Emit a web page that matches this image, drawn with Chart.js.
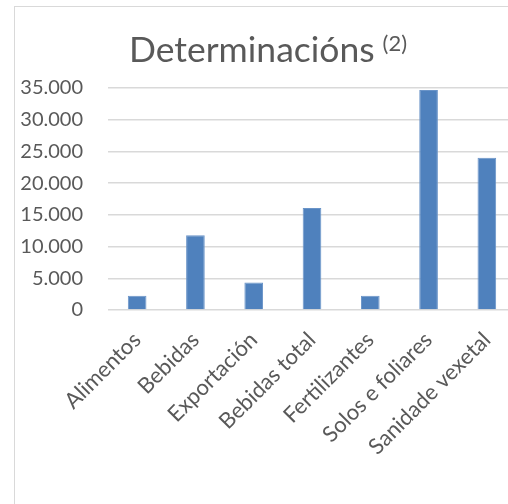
<!DOCTYPE html>
<html>
<head>
<meta charset="utf-8">
<script src="https://cdn.jsdelivr.net/npm/chart.js@4"></script>
<style>
    html, body { margin: 0; padding: 0; background: #fff; overflow: hidden; }
    body { width: 508px; height: 504px; position: relative; }
    #frame {
        position: absolute;
        left: 14px;
        top: 6px;
        width: 520px;
        height: 520px;
        border: 1px solid #d9d9d9;
    }
    #wrap { position: absolute; left: 0; top: 0; width: 520px; height: 520px; }
</style>
</head>
<body>
<div id="frame">
    <div id="wrap"><canvas id="chart"></canvas></div>
</div>
<script>
// Chart data
const categories = ['Alimentos', 'Bebidas', 'Exportación', 'Bebidas total', 'Fertilizantes', 'Solos e foliares', 'Sanidade vexetal'];
const determinacions = [2250, 11800, 4350, 16100, 2250, 34700, 24000];
const chartTitle = 'Determinacións';
const titleNote = '(2)';
const yMax = 35000;
const yStep = 5000;

const textColor = '#595959';
const fontFamily = 'Lato, "Open Sans", sans-serif';

// thousands with a dot: 35.000
function formatThousands(v) {
    return String(v).replace(/\B(?=(\d{3})+(?!\d))/g, '.');
}

// title with a raised note, drawn by hand since Chart.js has no superscript
const titlePlugin = {
    id: 'supTitle',
    afterDraw(chart) {
        const ctx = chart.ctx;
        ctx.save();
        ctx.fillStyle = textColor;
        ctx.textBaseline = 'alphabetic';
        ctx.textAlign = 'left';
        ctx.font = '35.5px ' + fontFamily;
        const mainW = ctx.measureText(chartTitle).width;
        ctx.font = '22px ' + fontFamily;
        const noteW = ctx.measureText(titleNote).width;
        const gap = 8;
        const total = mainW + gap + noteW;
        const x0 = 253 - total / 2;
        const base = 55;
        ctx.font = '35.5px ' + fontFamily;
        ctx.fillText(chartTitle, x0, base);
        ctx.font = '22px ' + fontFamily;
        ctx.fillText(titleNote, x0 + mainW + gap, base - 11);
        ctx.restore();
    }
};

const ctx = document.getElementById('chart').getContext('2d');
new Chart(ctx, {
    type: 'bar',
    data: {
        labels: categories,
        datasets: [{
            label: chartTitle,
            data: determinacions,
            backgroundColor: '#4f81bd',
            borderColor: '#6a94c8',
            borderWidth: 1,
            categoryPercentage: 1.0,
            barPercentage: 0.32
        }]
    },
    options: {
        responsive: true,
        maintainAspectRatio: false,
        animation: false,
        layout: {
            padding: { top: 81, right: 19, bottom: 17, left: 0 }
        },
        scales: {
            x: {
                grid: { display: false },
                border: { display: false },
                ticks: {
                    color: textColor,
                    font: { family: fontFamily, size: 22 },
                    minRotation: 45,
                    maxRotation: 45,
                    autoSkip: false,
                    padding: 9
                },
                afterFit(scale) { scale.height = 200; }
            },
            y: {
                min: 0,
                max: yMax,
                grid: {
                    color: '#d9d9d9',
                    lineWidth: 1.5,
                    drawTicks: false
                },
                border: { display: false },
                ticks: {
                    stepSize: yStep,
                    color: textColor,
                    font: { family: fontFamily, size: 20 },
                    padding: 25,
                    callback: v => formatThousands(v)
                },
                afterFit(scale) { scale.width = 93; }
            }
        },
        plugins: {
            legend: { display: false },
            title: { display: false },
            tooltip: { enabled: false }
        }
    },
    plugins: [titlePlugin]
});
</script>
</body>
</html>
